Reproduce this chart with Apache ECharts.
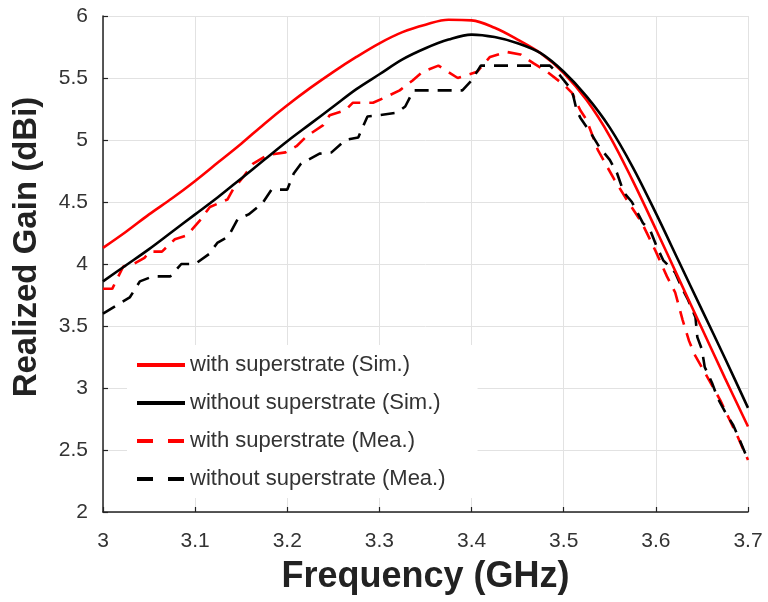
<!DOCTYPE html>
<html>
<head>
<meta charset="utf-8">
<script src="https://cdn.jsdelivr.net/npm/echarts@6/dist/echarts.min.js"></script>
<style>html,body{margin:0;padding:0;background:#fff;}#c{width:768px;height:602px;}</style>
</head>
<body>
<div id="c"></div>
<script>
// Series names
const seriesNames = [
  'with superstrate (Sim.)',
  'without superstrate (Sim.)',
  'with superstrate (Mea.)',
  'without superstrate (Mea.)'
];
// Simulated curves share a frequency grid (GHz)
const simF = [3.000,3.025,3.050,3.075,3.100,3.125,3.150,3.175,3.200,3.225,3.250,3.275,3.300,3.325,3.350,3.375,3.400,3.425,3.450,3.475,3.500,3.525,3.550,3.575,3.600,3.625,3.650,3.675,3.700];
// with superstrate (Sim.)
const redSimG = [4.13,4.26,4.40,4.53,4.67,4.82,4.97,5.13,5.28,5.42,5.55,5.67,5.78,5.87,5.93,5.97,5.965,5.905,5.81,5.70,5.54,5.32,5.03,4.67,4.28,3.88,3.48,3.08,2.69];
// without superstrate (Sim.)
const blackSimG = [3.86,3.99,4.12,4.26,4.40,4.54,4.69,4.84,4.99,5.13,5.27,5.41,5.53,5.65,5.74,5.81,5.85,5.83,5.78,5.70,5.55,5.35,5.10,4.78,4.41,4.02,3.63,3.24,2.84];
// with superstrate (Mea.)
const redMeaF = [3.000,3.010,3.022,3.033,3.045,3.051,3.064,3.078,3.091,3.105,3.116,3.135,3.141,3.152,3.163,3.179,3.198,3.210,3.221,3.239,3.246,3.263,3.271,3.293,3.308,3.322,3.336,3.347,3.364,3.385,3.406,3.420,3.438,3.453,3.467,3.482,3.501,3.509,3.518,3.525,3.537,3.555,3.570,3.585,3.600,3.612,3.621,3.629,3.636,3.642,3.655,3.670,3.688,3.700];
const redMeaG = [3.80,3.80,3.98,4.00,4.05,4.10,4.10,4.20,4.23,4.35,4.46,4.52,4.60,4.70,4.81,4.88,4.90,4.95,5.03,5.12,5.20,5.24,5.30,5.30,5.35,5.40,5.48,5.55,5.60,5.50,5.55,5.67,5.71,5.69,5.62,5.55,5.44,5.38,5.24,5.16,4.92,4.68,4.50,4.33,4.10,3.90,3.77,3.55,3.38,3.27,3.10,2.90,2.62,2.42];
// without superstrate (Mea.)
const blackMeaF = [3.000,3.029,3.040,3.054,3.073,3.085,3.100,3.115,3.124,3.136,3.146,3.158,3.173,3.183,3.200,3.207,3.215,3.235,3.248,3.263,3.277,3.287,3.300,3.319,3.328,3.337,3.390,3.400,3.410,3.485,3.496,3.509,3.514,3.518,3.529,3.539,3.550,3.558,3.565,3.574,3.586,3.594,3.601,3.608,3.621,3.628,3.635,3.643,3.645,3.650,3.653,3.661,3.667,3.675,3.684,3.691,3.700];
const blackMeaG = [3.60,3.73,3.86,3.90,3.90,4.00,4.00,4.08,4.17,4.22,4.36,4.40,4.49,4.60,4.60,4.73,4.81,4.89,4.90,5.00,5.02,5.19,5.20,5.22,5.27,5.40,5.40,5.48,5.60,5.60,5.52,5.40,5.24,5.18,5.06,4.94,4.84,4.73,4.58,4.50,4.33,4.27,4.14,4.03,3.93,3.81,3.71,3.57,3.41,3.31,3.17,3.04,2.92,2.81,2.70,2.58,2.42];
// axis ticks
const xTicks = [3.0,3.1,3.2,3.3,3.4,3.5,3.6,3.7];
const yTicks = [2,2.5,3,3.5,4,4.5,5,5.5,6];

const zip = (a, b) => a.map((v, i) => [v, b[i]]);
const FONT = "'Liberation Sans', Arial, Helvetica, sans-serif";
const SOLID_LEG = {width: 4, type: 'solid'};
const DASH_LEG = {width: 4, type: [16, 15]};
const HIDE_SYM = {opacity: 0, borderWidth: 0};

const chart = echarts.init(document.getElementById('c'), null, {renderer: 'canvas'});
chart.setOption({
  animation: false,
  backgroundColor: '#fff',
  grid: {left: 103, right: 20, top: 16, bottom: 90, containLabel: false},
  xAxis: {
    type: 'value',
    min: xTicks[0], max: xTicks[xTicks.length - 1], interval: 0.1,
    name: 'Frequency (GHz)', nameLocation: 'middle', nameGap: 47,
    nameTextStyle: {fontFamily: FONT, fontSize: 36, fontWeight: 'bold', color: '#222'},
    axisLine: {show: true, lineStyle: {color: '#222', width: 1.5}},
    axisTick: {show: true, inside: true, length: 5, lineStyle: {color: '#222', width: 1.2}},
    axisLabel: {fontFamily: FONT, fontSize: 21, color: '#333', margin: 19},
    splitLine: {show: true, lineStyle: {color: '#e2e2e2', width: 1}}
  },
  yAxis: {
    type: 'value',
    min: yTicks[0], max: yTicks[yTicks.length - 1], interval: 0.5,
    name: 'Realized Gain (dBi)', nameLocation: 'middle', nameGap: 60,
    nameTextStyle: {fontFamily: FONT, fontSize: 33, fontWeight: 'bold', color: '#222', padding: [0, 0, 0, 34]},
    axisLine: {show: true, lineStyle: {color: '#222', width: 1.5}},
    axisTick: {show: true, inside: true, length: 5, lineStyle: {color: '#222', width: 1.2}},
    axisLabel: {fontFamily: FONT, fontSize: 21, color: '#333', margin: 15},
    splitLine: {show: true, lineStyle: {color: '#e2e2e2', width: 1}}
  },
  legend: {
    show: true,
    orient: 'vertical',
    left: 127, top: 345,
    backgroundColor: '#fff',
    padding: [8, 32, 7, 8],
    itemWidth: 48, itemHeight: 14, itemGap: 14,
    textStyle: {fontFamily: FONT, fontSize: 22, color: '#333', lineHeight: 24},
    itemStyle: HIDE_SYM,
    data: [
      {name: seriesNames[0], lineStyle: SOLID_LEG, itemStyle: HIDE_SYM},
      {name: seriesNames[1], lineStyle: SOLID_LEG, itemStyle: HIDE_SYM},
      {name: seriesNames[2], lineStyle: DASH_LEG, itemStyle: HIDE_SYM},
      {name: seriesNames[3], lineStyle: DASH_LEG, itemStyle: HIDE_SYM}
    ]
  },
  series: [
    {name: seriesNames[0], type: 'line', data: zip(simF, redSimG), smooth: 0.35, symbol: 'none',
     lineStyle: {color: '#ff0000', width: 2.6}, itemStyle: {color: '#ff0000'}, z: 3},
    {name: seriesNames[1], type: 'line', data: zip(simF, blackSimG), smooth: 0.35, symbol: 'none',
     lineStyle: {color: '#000000', width: 2.6}, itemStyle: {color: '#000000'}, z: 3},
    {name: seriesNames[2], type: 'line', data: zip(redMeaF, redMeaG), smooth: false, symbol: 'none',
     lineStyle: {color: '#ff0000', width: 2.6, type: [14, 9]}, itemStyle: {color: '#ff0000'}, z: 2},
    {name: seriesNames[3], type: 'line', data: zip(blackMeaF, blackMeaG), smooth: false, symbol: 'none',
     lineStyle: {color: '#000000', width: 2.6, type: [14, 9]}, itemStyle: {color: '#000000'}, z: 2}
  ]
});
</script>
</body>
</html>
